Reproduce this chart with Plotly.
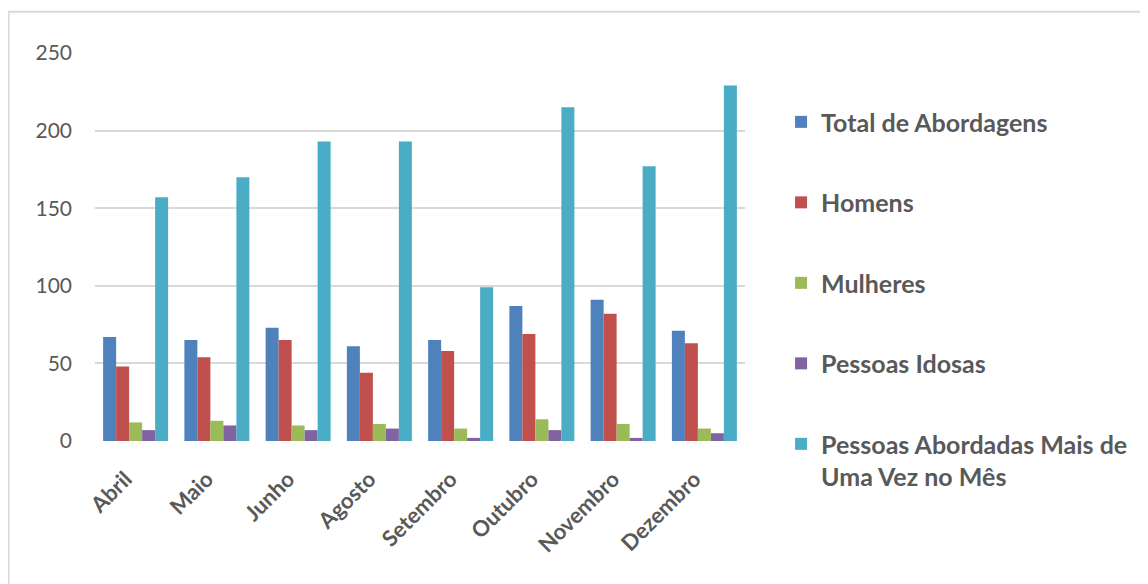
import plotly.graph_objects as go

months = ["Abril", "Maio", "Junho", "Agosto", "Setembro", "Outubro", "Novembro", "Dezembro"]
total_abordagens = [67, 65, 73, 61, 65, 87, 91, 71]
homens = [48, 54, 65, 44, 58, 69, 82, 63]
mulheres = [12, 13, 10, 11, 8, 14, 11, 8]
idosas = [7, 10, 7, 8, 2, 7, 2, 5]
mais_de_uma_vez = [157, 170, 193, 193, 99, 215, 177, 229]

series = [
    ("Total de Abordagens", total_abordagens, "#4F81BD"),
    ("Homens", homens, "#C0504D"),
    ("Mulheres", mulheres, "#9BBB59"),
    ("Pessoas Idosas", idosas, "#8064A2"),
    ("Pessoas Abordadas Mais de<br>Uma Vez no Mês", mais_de_uma_vez, "#4BACC6"),
]

fig = go.Figure()
for i, (name, vals, color) in enumerate(series):
    fig.add_trace(go.Bar(
        x=months, y=vals, name=name, legendgroup=str(i),
        marker=dict(color=color, line=dict(width=0)),
    ))

FONT = "Lato, Open Sans, sans-serif"
fig.update_layout(
    width=1148, height=584,
    paper_bgcolor="white", plot_bgcolor="white",
    margin=dict(l=87, r=411, t=45, b=151),
    barmode="group", bargap=0.2, bargroupgap=0.0,
    font=dict(family=FONT, color="#595959"),
    legend=dict(
        xref="container", yref="container",
        x=0.6734, y=0.844, xanchor="left", yanchor="top",
        font=dict(family=FONT, size=25, color="#595959", weight="bold"),
        tracegroupgap=45, itemsizing="constant", bgcolor="rgba(0,0,0,0)",
        valign="top", maxheight=560,
    ),
    xaxis=dict(
        tickangle=-45, showgrid=False, showline=False, zeroline=False,
        tickfont=dict(family=FONT, size=22, color="#595959", weight="bold"),
        ticklabelstandoff=20, ticklabelshift=-10,
    ),
    yaxis=dict(
        range=[0, 250], dtick=50, showgrid=True, gridcolor="#D9D9D9", gridwidth=1.5,
        zeroline=False, showline=False,
        tickfont=dict(family=FONT, size=21, color="#595959"), ticklabelstandoff=22,
    ),
    shapes=[dict(type="rect", xref="paper", yref="paper", x0=-0.133, x1=2.0, y0=-0.6, y1=1.106,
                 line=dict(color="#D9D9D9", width=2), layer="below")],
)

fig.write_html("out.html")
